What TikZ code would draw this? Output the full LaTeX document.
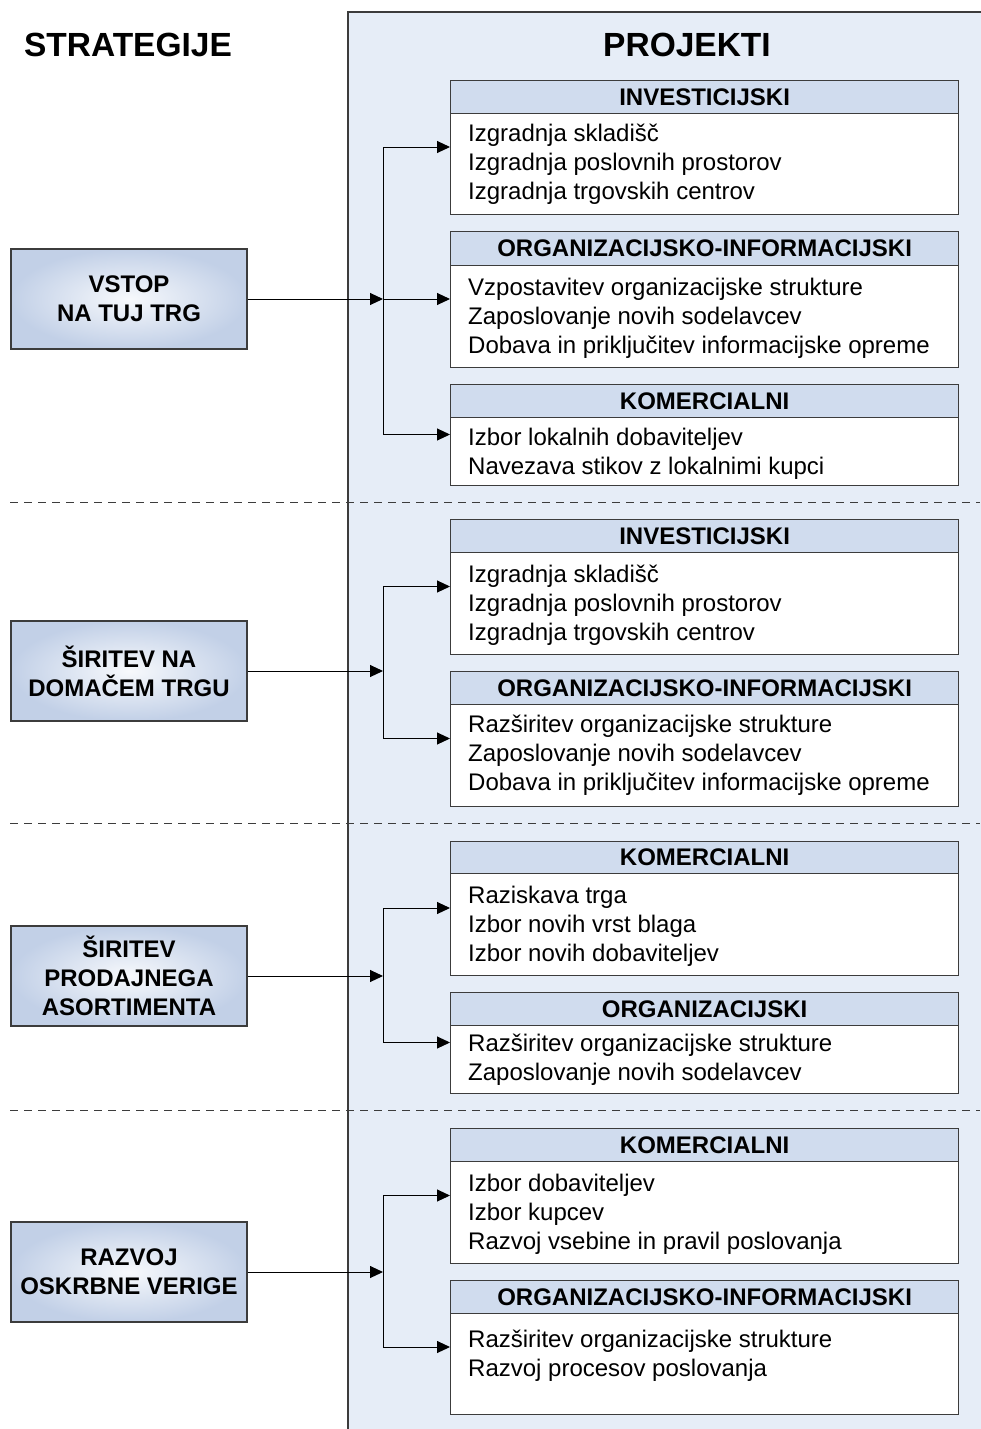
\documentclass[tikz,border=0pt]{standalone}
\usepackage{fontspec}
\setmainfont{Liberation Sans}
\usetikzlibrary{arrows.meta}

\definecolor{panelfill}{HTML}{E6EDF7}
\definecolor{hdrfill}{HTML}{D0DCEE}
\definecolor{stratouter}{HTML}{C2D0E7}
\definecolor{stratinner}{HTML}{F7F9FC}
\definecolor{edge}{HTML}{3C3C3C}

\tikzset{
  hdrbox/.style={draw=edge, line width=1.2pt, fill=hdrfill, minimum width=508pt,
    inner sep=0pt, font=\bfseries\fontsize{24}{28}\selectfont},
  bodybox/.style={draw=edge, line width=1.2pt, fill=white, minimum width=508pt, inner sep=0pt},
  itemtext/.style={inner sep=0pt, font=\fontsize{24}{29}\selectfont},
  stratbox/.style={draw=edge, line width=1.2pt, inner color=stratinner, outer color=stratouter,
    minimum width=236pt, minimum height=100pt, inner sep=0pt, align=center,
    font=\bfseries\fontsize{24}{29}\selectfont},
  heading/.style={inner sep=0pt, font=\bfseries\fontsize{33.5}{38}\selectfont},
  conn/.style={line width=1pt, -{Triangle[length=13pt,width=12pt]}},
  sep/.style={line width=1pt, draw=edge, dash pattern=on 8pt off 6pt},
}

% project box: name, top, header bottom, bottom, title, first baseline, items
\newcommand\pbox[7]{%
  \node[hdrbox, minimum height={#3-#2}, anchor=north west] (#1h) at (450,#2) {#5};
  \node[bodybox, minimum height={#4-#3}, anchor=north west] (#1b) at (450,#3) {};
  \coordinate (#1w) at (450,{(#2+#4)/2});
  \foreach \t [count=\i] in {#7}
    \node[itemtext, anchor=base west] (#1l\i) at (468,{#6+29*(\i-1)}) {\t};
}

\begin{document}
\begin{tikzpicture}[x=1pt, y=-1pt]
\useasboundingbox (0,0) rectangle (980,1429);

% projects panel
\fill[panelfill] (348,12) rectangle (995,1445);
\draw[edge, line width=1.2pt] (348,1445) -- (348,12) -- (995,12);

% headings
\node[heading] (hstrat) at (128,45) {STRATEGIJE};
\node[heading] (hproj) at (687,45) {PROJEKTI};

% dashed separators
\draw[sep] (10,502) -- (980,502);
\draw[sep] (10,823) -- (980,823);
\draw[sep] (10,1110) -- (980,1110);

% strategies
\node[stratbox] (s1) at (129,299) {VSTOP\\NA TUJ TRG};
\node[stratbox] (s2) at (129,671) {ŠIRITEV NA\\DOMAČEM TRGU};
\node[stratbox] (s3) at (129,976) {ŠIRITEV\\PRODAJNEGA\\ASORTIMENTA};
\node[stratbox] (s4) at (129,1272) {RAZVOJ\\OSKRBNE VERIGE};

% projects
\pbox{ga}{80}{113}{214}{INVESTICIJSKI}{141}{Izgradnja skladišč,Izgradnja poslovnih prostorov,Izgradnja trgovskih centrov}
\pbox{gb}{231}{265}{367}{ORGANIZACIJSKO-INFORMACIJSKI}{295}{Vzpostavitev organizacijske strukture,Zaposlovanje novih sodelavcev,Dobava in priključitev informacijske opreme}
\pbox{gc}{384}{417}{485}{KOMERCIALNI}{445}{Izbor lokalnih dobaviteljev,Navezava stikov z lokalnimi kupci}
\pbox{gd}{519}{552}{654}{INVESTICIJSKI}{582}{Izgradnja skladišč,Izgradnja poslovnih prostorov,Izgradnja trgovskih centrov}
\pbox{ge}{671}{704}{806}{ORGANIZACIJSKO-INFORMACIJSKI}{732}{Razširitev organizacijske strukture,Zaposlovanje novih sodelavcev,Dobava in priključitev informacijske opreme}
\pbox{gf}{841}{873}{975}{KOMERCIALNI}{903}{Raziskava trga,Izbor novih vrst blaga,Izbor novih dobaviteljev}
\pbox{gg}{992}{1025}{1093}{ORGANIZACIJSKI}{1051}{Razširitev organizacijske strukture,Zaposlovanje novih sodelavcev}
\pbox{gh}{1128}{1161}{1263}{KOMERCIALNI}{1191}{Izbor dobaviteljev,Izbor kupcev,Razvoj vsebine in pravil poslovanja}
\pbox{gi}{1280}{1313}{1414}{ORGANIZACIJSKO-INFORMACIJSKI}{1347}{Razširitev organizacijske strukture,Razvoj procesov poslovanja}

% hubs on the distribution buses
\coordinate (h1) at (383,299);
\coordinate (h2) at (383,671);
\coordinate (h3) at (383,976);
\coordinate (h4) at (383,1272);

% connectors
\draw[conn] (h1) |- (gaw);
\draw[conn] (h1) -- (gbw);
\draw[conn] (h1) |- (gcw);
\draw[conn] (s1.east) -- (h1);

\draw[conn] (h2) |- (gdw);
\draw[conn] (h2) |- (gew);
\draw[conn] (s2.east) -- (h2);

\draw[conn] (h3) |- (gfw);
\draw[conn] (h3) |- (ggw);
\draw[conn] (s3.east) -- (h3);

\draw[conn] (h4) |- (ghw);
\draw[conn] (h4) |- (giw);
\draw[conn] (s4.east) -- (h4);
\end{tikzpicture}
\end{document}
